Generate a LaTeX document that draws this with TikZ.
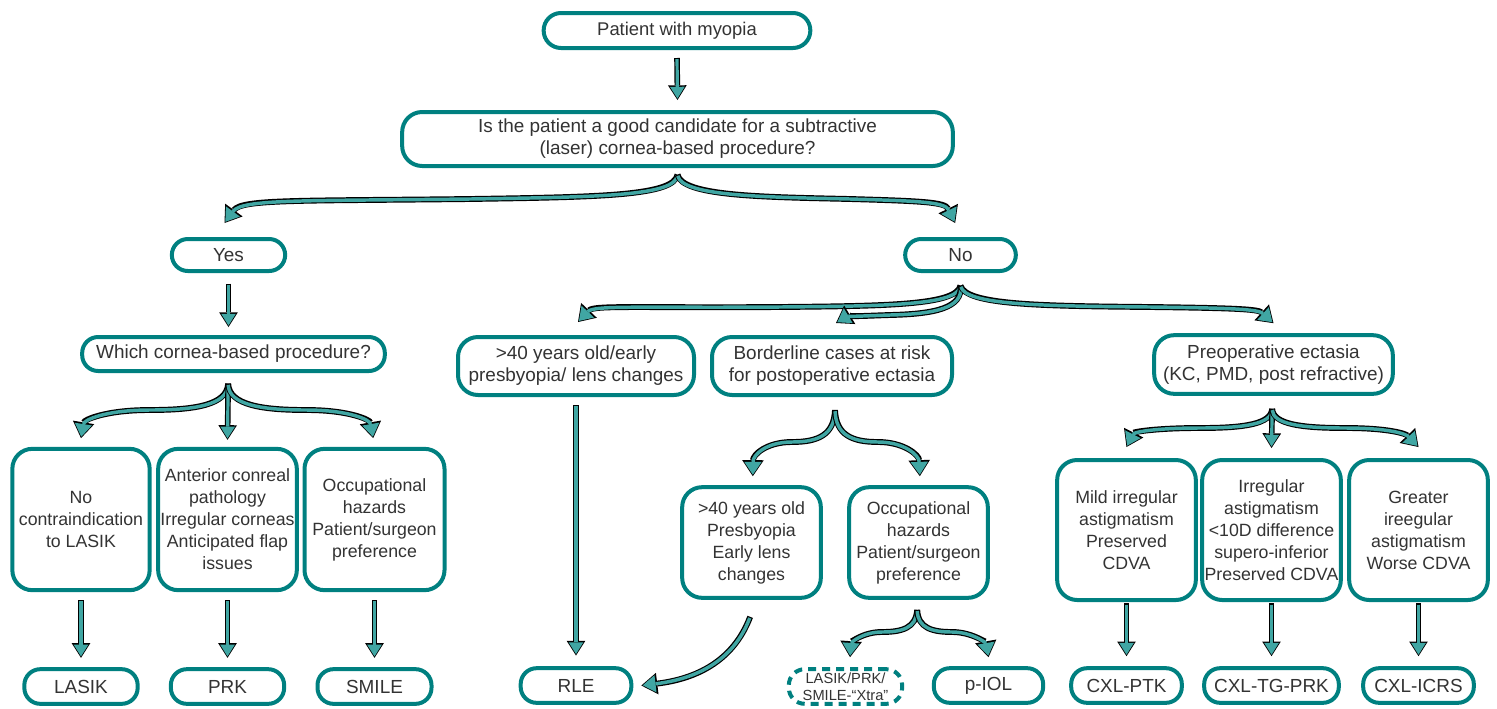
\documentclass[tikz,border=0pt]{standalone}
\usepackage{fontspec}
\setmainfont{Liberation Sans}
\usetikzlibrary{arrows.meta}
\definecolor{tealB}{RGB}{0,128,128}
\definecolor{tealA}{RGB}{64,166,163}
\definecolor{txt}{RGB}{51,51,51}
\tikzset{
  box/.style={draw=tealB, line width=3pt, rounded corners=15pt, fill=white, text=txt,
    align=center, inner sep=0pt, font=\fontsize{13.3pt}{16.5pt}\selectfont},
  wbox/.style={box, font=\fontsize{14.2pt}{16.5pt}\selectfont},
  pill/.style={wbox, rounded corners=12pt, minimum height=26pt},
  dashpill/.style={pill, dash pattern=on 6pt off 4.5pt, font=\fontsize{11pt}{12.75pt}\selectfont},
  arr/.style={draw=tealA, line width=2.4pt, line cap=butt,
    -{Triangle[length=8.8pt,width=11pt,line width=0pt]}, shorten >=1.1pt, shorten <=0.9pt,
    preaction={draw=black, line width=4.2pt,
      -{Triangle[length=11pt,width=14pt,line width=0pt]}, shorten >=0pt, shorten <=0pt}},
  carr/.style={draw=tealA, line width=2.6pt, line cap=butt,
    -{Triangle[length=9.6pt,width=13pt,line width=0pt]}, shorten >=1.1pt, shorten <=0.9pt,
    preaction={draw=black, line width=4.4pt,
      -{Triangle[length=12pt,width=16.2pt,line width=0pt]}, shorten >=0pt, shorten <=0pt}},
}
\begin{document}
\begin{tikzpicture}[x=0.75pt,y=-0.75pt]
\useasboundingbox (0,0) rectangle (1497,708);
% nodes
\node[wbox, font=\fontsize{13.8pt}{16.5pt}\selectfont, rounded corners=13pt, minimum width=200pt, minimum height=26.25pt] (patient) at (677,30.5) {Patient with myopia};
\node[wbox, minimum width=413pt, minimum height=40.5pt] (is) at (677.5,139) {Is the patient a good candidate for a subtractive\\(laser) cornea-based procedure?};
\node[pill, minimum width=85pt, minimum height=24pt] (yes) at (228.5,255) {Yes};
\node[pill, minimum width=83pt, minimum height=24pt] (no) at (960.5,255) {No};
\node[pill, minimum width=227pt, minimum height=25.5pt] (which) at (233.5,354) {Which cornea-based procedure?};
\node[wbox, minimum width=177pt, minimum height=43.5pt] (forty) at (576,366) {>40 years old/early\\presbyopia/ lens changes};
\node[wbox, minimum width=180pt, minimum height=43.5pt] (border) at (832,366) {Borderline cases at risk\\for postoperative ectasia};
\node[wbox, minimum width=179pt, minimum height=44pt] (preop) at (1273.5,364.5) {Preoperative ectasia\\(KC, PMD, post refractive)};
\node[box, minimum width=103pt, minimum height=106pt] (box9) at (81,519.5) {No\\contraindication\\to LASIK};
\node[box, minimum width=104pt, minimum height=106pt] (box10) at (227.5,519.5) {Anterior conreal\\pathology\\Irregular corneas\\Anticipated flap\\issues};
\node[box, minimum width=105pt, minimum height=106pt] (box11) at (374.5,519.5) {Occupational\\hazards\\Patient/surgeon\\preference};
\node[box, minimum width=104pt, minimum height=83pt] (box12) at (751.5,542.5) {>40 years old\\Presbyopia\\Early lens\\changes};
\node[box, minimum width=104pt, minimum height=83pt] (box13) at (918.5,542.5) {Occupational\\hazards\\Patient/surgeon\\preference};
\node[box, minimum width=104pt, minimum height=105pt] (box14) at (1126.5,530) {Mild irregular\\astigmatism\\Preserved\\CDVA};
\node[box, minimum width=104pt, minimum height=105pt] (box15) at (1271.5,530) {Irregular\\astigmatism\\<10D difference\\supero-inferior\\Preserved CDVA};
\node[box, minimum width=104pt, minimum height=105pt] (box16) at (1418.5,530) {Greater\\ireegular\\astigmatism\\Worse CDVA};
\node[pill, minimum width=85pt] (lasik) at (81,686.5) {LASIK};
\node[pill, minimum width=85pt] (prk) at (227.5,686.5) {PRK};
\node[pill, minimum width=85.5pt] (smile) at (374.5,686.5) {SMILE};
\node[pill, minimum width=83pt] (rle) at (576,685.5) {RLE};
\node[dashpill, minimum width=85pt] (xtra) at (845.5,686.5) {LASIK/PRK/\\SMILE-“Xtra”};
\node[pill, minimum width=82pt] (piol) at (988.5,685.5) {p-IOL};
\node[pill, minimum width=83pt] (ptk) at (1126.5,685.5) {CXL-PTK};
\node[pill, minimum width=101pt] (tgprk) at (1271.5,685.5) {CXL-TG-PRK};
\node[pill, minimum width=83pt] (icrs) at (1418.5,685.5) {CXL-ICRS};
% split points
\coordinate (isS) at ([yshift=-5pt]is.south);
\coordinate (noS) at ([yshift=-9.5pt]no.south);
\coordinate (whS) at ([xshift=-4pt,yshift=-8pt]which.south);
\coordinate (boS) at ([xshift=2.25pt,yshift=-9.75pt]border.south);
\coordinate (prS) at ([xshift=-1pt,yshift=-9.75pt]preop.south);
\coordinate (b13S) at ([xshift=-1pt,yshift=-7.5pt]box13.south);
% straight arrows
\draw[arr] ([yshift=-6pt]patient.south) -- ([yshift=7.5pt]is.north);
\draw[arr] ([yshift=-8pt]yes.south) -- ([xshift=-3.75pt,yshift=6pt]which.north);
\draw[arr] ([yshift=-6pt]forty.south) -- ([yshift=8pt]rle.north);
\draw[arr] ([yshift=-6pt]box9.south) -- ([yshift=7pt]lasik.north);
\draw[arr] ([yshift=-6pt]box10.south) -- ([yshift=7pt]prk.north);
\draw[arr] ([yshift=-6pt]box11.south) -- ([yshift=7pt]smile.north);
\draw[arr] ([yshift=-1pt]box14.south) -- ([yshift=7.5pt]ptk.north);
\draw[arr] ([yshift=-1pt]box15.south) -- ([yshift=7.5pt]tgprk.north);
\draw[arr] ([yshift=-1pt]box16.south) -- ([yshift=7.5pt]icrs.north);
% curved arrows
\draw[carr] (isS) .. controls (674,196) and (600,197) .. (470,199) .. controls (300,201) and (242,199) .. ([xshift=-3pt,yshift=10.5pt]yes.north);
\draw[carr] (isS) .. controls (682,196) and (760,197) .. (850,199) .. controls (920,201) and (945,202) .. ([xshift=-4pt,yshift=10.5pt]no.north);
\draw[carr] (noS) .. controls (956,305) and (890,306) .. (780,307) .. controls (640,308) and (594,305) .. ([xshift=1.5pt,yshift=9.75pt]forty.north);
\draw[carr] (noS) .. controls (963,308) and (935,314) .. (890,315) .. controls (860,316) and (846,317) .. ([xshift=3pt,yshift=9pt]border.north);
\draw[carr] (noS) .. controls (966,305) and (1040,306) .. (1150,307) .. controls (1230,308) and (1258,309) .. ([yshift=7.5pt]preop.north);
\draw[carr] (whS) .. controls (227,405) and (195,410) .. (150,410) .. controls (105,410) and (84,420) .. ([yshift=6.5pt]box9.north);
\draw[arr] (whS) -- ([yshift=5.25pt]box10.north);
\draw[carr] (whS) .. controls (229,405) and (262,410) .. (306,410) .. controls (350,410) and (370,420) .. ([xshift=-1pt,yshift=6.5pt]box11.north);
\draw[carr] (boS) .. controls (834,435) and (818,442) .. (792,442) .. controls (766,442) and (753,455) .. ([xshift=1pt,yshift=6.75pt]box12.north);
\draw[carr] (boS) .. controls (836,435) and (852,442) .. (878,442) .. controls (904,442) and (919,455) .. ([xshift=1pt,yshift=6.75pt]box13.north);
\draw[carr] (prS) .. controls (1271,424) and (1245,428) .. (1200,428) .. controls (1155,428) and (1134,432) .. ([yshift=8.25pt]box14.north);
\draw[arr] (prS) -- ([yshift=7.5pt]box15.north);
\draw[carr] (prS) .. controls (1273,424) and (1300,428) .. (1345,428) .. controls (1390,428) and (1406,434) .. ([yshift=8.25pt]box16.north);
\draw[carr] (b13S) .. controls (916,628) and (902,632) .. (882,632) .. controls (862,632) and (851,643) .. ([xshift=3.4pt,yshift=7.5pt]xtra.north);
\draw[carr] (b13S) .. controls (918,628) and (932,632) .. (952,632) .. controls (972,632) and (986,643) .. ([yshift=6.75pt]piol.north);
\draw[carr] ([xshift=-1pt,yshift=-12.75pt]box12.south) .. controls (733,662) and (695,679) .. ([xshift=6pt]rle.east);
\end{tikzpicture}
\end{document}
